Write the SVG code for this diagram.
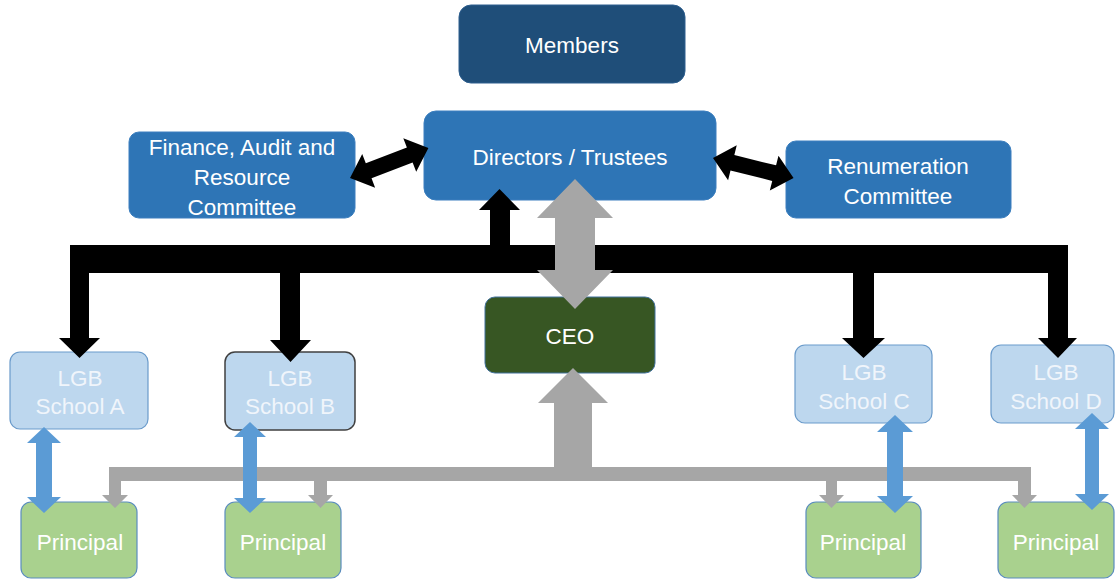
<svg xmlns="http://www.w3.org/2000/svg" width="1115" height="580" viewBox="0 0 1115 580">
<style>
  text { font-family: "Liberation Sans", Arial, sans-serif; font-size: 22.5px; text-anchor: middle; }
  .dark { fill: #1F4E79; stroke: #2E5F8F; stroke-width: 1; }
  .mid { fill: #2E75B6; stroke: #3C7FBF; stroke-width: 1; }
  .ceo { fill: #375623; stroke: #41719C; stroke-width: 1; }
  .lgb { fill: #BDD7EE; stroke: #6A9BCB; stroke-width: 1.2; }
  .lgbdark { fill: #BDD7EE; stroke: #404040; stroke-width: 1.5; }
  .prin { fill: #A9D18E; stroke: #5A8CBE; stroke-width: 1.2; }
  .wt { fill: #FFFFFF; }
  .lt { fill: #F0F5FB; }
  .black { fill: #000000; }
  .gray { fill: #A6A6A6; }
  .blue { fill: #5B9BD5; }
</style>

<g id="members">
  <rect class="dark" x="459" y="5" width="226" height="78" rx="12"/>
  <text class="wt" x="572" y="53">Members</text>
</g>
<g id="directors">
  <rect class="mid" x="424" y="111" width="292" height="89" rx="12"/>
  <text class="wt" x="570" y="165">Directors / Trustees</text>
</g>
<g id="finance">
  <rect class="mid" x="129" y="132" width="226" height="86" rx="10"/>
  <text class="wt" x="242" y="155">Finance, Audit and</text>
  <text class="wt" x="242" y="185">Resource</text>
  <text class="wt" x="242" y="215">Committee</text>
</g>
<g id="renumeration">
  <rect class="mid" x="786" y="141" width="225" height="77" rx="10"/>
  <text class="wt" x="898" y="174">Renumeration</text>
  <text class="wt" x="898" y="204">Committee</text>
</g>
<g id="ceo">
  <rect class="ceo" x="485" y="297" width="170" height="76" rx="10"/>
  <text class="wt" x="570" y="344">CEO</text>
</g>
<g id="lgb-a">
  <rect class="lgb" x="10" y="352" width="138" height="77" rx="10"/>
  <text class="lt" x="80" y="386">LGB</text>
  <text class="lt" x="80" y="414">School A</text>
</g>
<g id="lgb-b">
  <rect class="lgbdark" x="225" y="352" width="130" height="78" rx="10"/>
  <text class="lt" x="290" y="386">LGB</text>
  <text class="lt" x="290" y="414">School B</text>
</g>
<g id="lgb-c">
  <rect class="lgb" x="795" y="345" width="137" height="78" rx="10"/>
  <text class="lt" x="864" y="380">LGB</text>
  <text class="lt" x="864" y="409">School C</text>
</g>
<g id="lgb-d">
  <rect class="lgb" x="991" y="345" width="123" height="78" rx="10"/>
  <text class="lt" x="1056" y="380">LGB</text>
  <text class="lt" x="1056" y="409">School D</text>
</g>
<g id="principal-a">
  <rect class="prin" x="21" y="502" width="116" height="76" rx="10"/>
  <text class="wt" x="80" y="550">Principal</text>
</g>
<g id="principal-b">
  <rect class="prin" x="225" y="502" width="116" height="76" rx="10"/>
  <text class="wt" x="283" y="550">Principal</text>
</g>
<g id="principal-c">
  <rect class="prin" x="806" y="502" width="115" height="76" rx="10"/>
  <text class="wt" x="863" y="550">Principal</text>
</g>
<g id="principal-d">
  <rect class="prin" x="998" y="502" width="116" height="76" rx="10"/>
  <text class="wt" x="1056" y="550">Principal</text>
</g>

<g id="connectors">
  <!-- black bus to LGBs -->
  <path class="black" d="M70,245 L1068,245 L1068,338 L1077,338 L1058,358 L1038,338 L1048,338 L1048,273 L874,273 L874,338 L885,338 L863.5,358 L842,338 L853,338 L853,273 L300,273 L300,340 L311,340 L290.5,362 L270,340 L280,340 L280,273 L89,273 L89,338 L100,338 L79.5,358 L59,338 L70,338 Z"/>
  <!-- black up arrow to directors -->
  <path class="black" d="M499.5,189 L520,210 L510,210 L510,246 L490,246 L490,210 L479,210 Z"/>
  <!-- diagonal black double arrows -->
  <polygon class="black" transform="translate(350,178) rotate(-21)" points="0,0 20,-18 20,-8 64,-8 64,-18 84,0 64,18 64,8 20,8 20,18"/>
  <polygon class="black" transform="translate(713,158) rotate(13.9)" points="0,0 20,-18 20,-8 63,-8 63,-18 83,0 63,18 63,8 20,8 20,18"/>
  <!-- gray double arrow directors <-> CEO -->
  <path class="gray" d="M575,179 L613,218 L595,218 L595,270 L613,270 L575,309 L537,270 L555,270 L555,218 L537,218 Z"/>
  <!-- gray tree principals -> CEO -->
  <path class="gray" d="M573,368 L608,403 L592,403 L592,467 L1031,467 L1031,495 L1037,495 L1024.5,508 L1012,495 L1018,495 L1018,481 L837,481 L837,495 L844,495 L831.5,508 L819,495 L826,495 L826,481 L327,481 L327,495 L333,495 L320.5,508 L308,495 L314,495 L314,481 L121,481 L121,495 L128,495 L115,508 L102,495 L109,495 L109,467 L554,467 L554,403 L538,403 Z"/>
  <!-- blue double arrows LGB <-> Principal -->
  <path class="blue" d="M44,427 L61,443 L52,443 L52,497 L61,497 L44,513 L27,497 L36,497 L36,443 L27,443 Z"/>
  <path class="blue" d="M250,422 L266,437 L257,437 L257,498 L266,498 L250,513 L234,498 L243,498 L243,437 L234,437 Z"/>
  <path class="blue" d="M895,415 L913,432 L903,432 L903,496 L913,496 L895,513 L877,496 L887,496 L887,432 L877,432 Z"/>
  <path class="blue" d="M1092,413 L1109,429 L1099,429 L1099,494 L1109,494 L1092,510 L1075,494 L1085,494 L1085,429 L1075,429 Z"/>
</g>
</svg>
